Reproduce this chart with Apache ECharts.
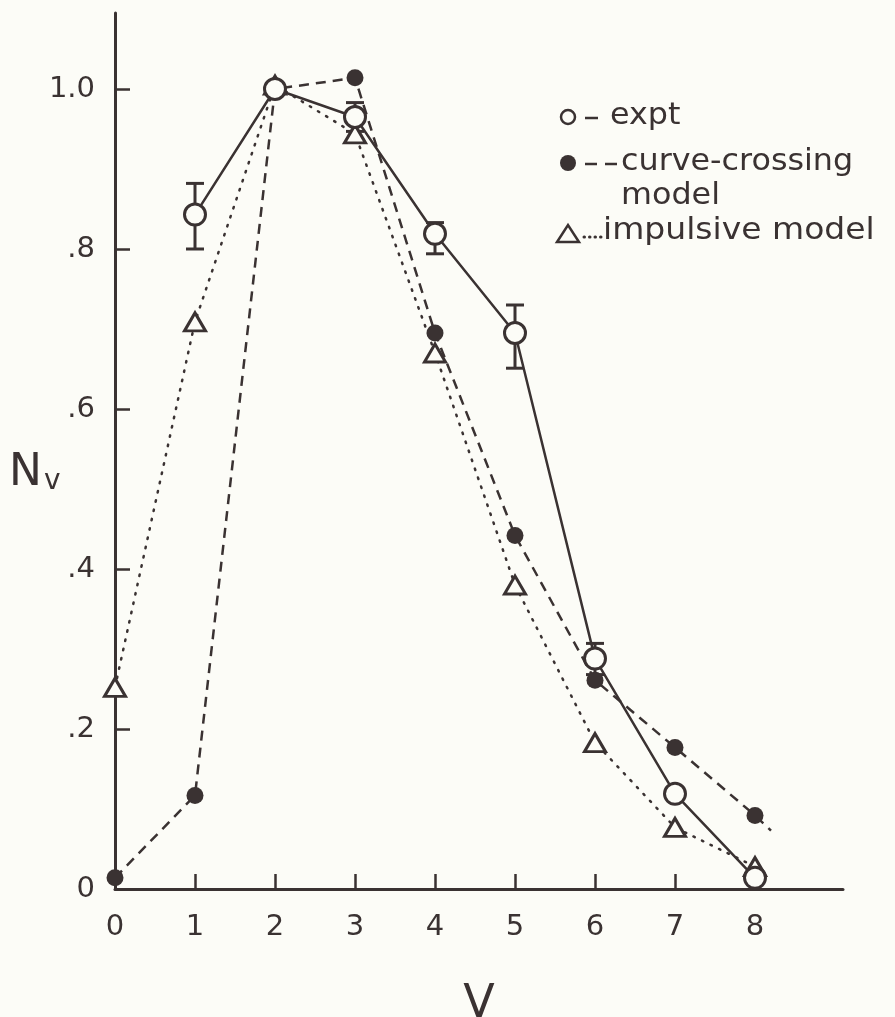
<!DOCTYPE html>
<html>
<head>
<meta charset="utf-8">
<script src="https://cdn.jsdelivr.net/npm/echarts@6/dist/echarts.min.js"></script>
<style>
html,body{margin:0;padding:0;background:#fcfcf7;}
#chart{width:895px;height:1017px;}
</style>
</head>
<body>
<div id="chart"></div>
<script>
// ---- data ----
const vValues = [0, 1, 2, 3, 4, 5, 6, 7, 8];
const xTickLabels = ['0', '1', '2', '3', '4', '5', '6', '7', '8'];
const yTickValues = [0, 0.2, 0.4, 0.6, 0.8, 1.0];
const yTickLabels = ['0', '.2', '.4', '.6', '.8', '1.0'];

const exptX = [1, 2, 3, 4, 5, 6, 7, 8];
const exptY = [0.843, 1.0, 0.965, 0.819, 0.695, 0.288, 0.119, 0.014];
const exptErrLo = [0.800, null, 0.947, 0.794, 0.651, 0.268, null, null];
const exptErrHi = [0.882, null, 0.983, 0.833, 0.730, 0.307, null, null];

const crossX = [0, 1, 2, 3, 4, 5, 6, 7, 8, 8.2];
const crossY = [0.014, 0.117, 1.0, 1.014, 0.695, 0.442, 0.261, 0.177, 0.092, 0.073];

const impX = [0, 1, 2, 3, 4, 5, 6, 7, 8];
const impY = [0.252, 0.709, 1.005, 0.944, 0.670, 0.380, 0.183, 0.077, 0.028];

const legendLabels = ['expt', 'curve-crossing', 'model', 'impulsive model'];

// ---- styling ----
const INK = '#3a3232';
const BG = '#fcfcf7';
const FONT = 'DejaVu Sans';

const chart = echarts.init(document.getElementById('chart'), null, {renderer: 'canvas'});

const exptData = exptX.map((x, i) => [x, exptY[i]]);
const crossData = crossX.map((x, i) => {
  const item = {value: [x, crossY[i]]};
  if (i === crossX.length - 1) item.symbol = 'none';
  return item;
});
const impData = impX.map((x, i) => [x, impY[i]]);
const errData = exptX.map((x, i) => [x, exptErrLo[i], exptErrHi[i]]).filter(d => d[1] !== null);

const legendText = (text, left, top, sx) => ({
  type: 'text', left: left, top: top, z: 100, scaleX: sx || 1.06,
  style: {text: text, fontFamily: FONT, fontSize: 30, fill: INK}
});

const option = {
  backgroundColor: BG,
  animation: false,
  grid: {left: 115, right: 52, top: 13, bottom: 128, containLabel: false, outerBoundsMode: 'none'},
  xAxis: {
    type: 'value', min: 0, max: 9.1, interval: 1,
    name: 'V', nameLocation: 'middle', nameGap: 93,
    nameTextStyle: {fontFamily: FONT, fontSize: 46, color: INK},
    axisLine: {show: true, onZero: false, lineStyle: {color: INK, width: 3}},
    axisTick: {show: true, inside: true, length: 15, lineStyle: {color: INK, width: 2.5},
      customValues: [1, 2, 3, 4, 5, 6, 7, 8]},
    axisLabel: {show: true, margin: 24, fontFamily: FONT, fontSize: 29, color: INK,
      customValues: vValues,
      formatter: v => { const i = vValues.indexOf(Math.round(v)); return i >= 0 ? xTickLabels[i] : ''; }},
    splitLine: {show: false}
  },
  yAxis: {
    type: 'value', min: 0, max: 1.095, interval: 0.2,
    axisLine: {show: true, onZero: false, lineStyle: {color: INK, width: 3}},
    axisTick: {show: true, inside: true, length: 15, lineStyle: {color: INK, width: 2.5},
      customValues: yTickValues.slice(1)},
    axisLabel: {show: true, margin: 20, fontFamily: FONT, fontSize: 29, color: INK,
      customValues: yTickValues,
      formatter: v => { const i = yTickValues.findIndex(t => Math.abs(t - v) < 1e-6); return i >= 0 ? yTickLabels[i] : ''; }},
    splitLine: {show: false}
  },
  graphic: [
    // y-axis title N_v
    {type: 'text', left: 9, top: 452, z: 100,
      style: {text: 'N', fontFamily: FONT, fontSize: 44, fill: INK}},
    {type: 'text', left: 44, top: 468, z: 100,
      style: {text: 'v', fontFamily: FONT, fontSize: 28, fill: INK}},
    // legend: expt
    {type: 'circle', shape: {cx: 568, cy: 117, r: 7}, z: 100,
      style: {fill: BG, stroke: INK, lineWidth: 2.5}},
    {type: 'line', shape: {x1: 585, y1: 118, x2: 598, y2: 118}, z: 100,
      style: {stroke: INK, lineWidth: 2.5}},
    legendText(legendLabels[0], 610, 101),
    // legend: curve-crossing
    {type: 'circle', shape: {cx: 568, cy: 163, r: 8}, z: 100,
      style: {fill: INK}},
    {type: 'line', shape: {x1: 585, y1: 164, x2: 617, y2: 164}, z: 100,
      style: {stroke: INK, lineWidth: 2.5, lineDash: [12, 8]}},
    legendText(legendLabels[1], 621, 147),
    legendText(legendLabels[2], 621, 181),
    // legend: impulsive
    {type: 'polygon', shape: {points: [[557, 242], [579, 242], [568, 225]]}, z: 100,
      style: {fill: BG, stroke: INK, lineWidth: 2.5}},
    {type: 'line', shape: {x1: 584, y1: 237, x2: 601, y2: 237}, z: 100,
      style: {stroke: INK, lineWidth: 3, lineDash: [0.5, 5], lineCap: 'round'}},
    legendText(legendLabels[3], 603, 216, 1.1)
  ],
  series: [
    {
      name: 'error', type: 'custom', z: 1,
      data: errData,
      renderItem: (params, api) => {
        const top = api.coord([api.value(0), api.value(2)]);
        const bot = api.coord([api.value(0), api.value(1)]);
        const hw = 9;
        const st = {stroke: INK, lineWidth: 3};
        return {type: 'group', children: [
          {type: 'line', shape: {x1: top[0], y1: top[1], x2: bot[0], y2: bot[1]}, style: st},
          {type: 'line', shape: {x1: top[0] - hw, y1: top[1], x2: top[0] + hw, y2: top[1]}, style: st},
          {type: 'line', shape: {x1: bot[0] - hw, y1: bot[1], x2: bot[0] + hw, y2: bot[1]}, style: st}
        ]};
      }
    },
    {
      name: 'impulsive model', type: 'line', z: 2, data: impData,
      symbol: 'triangle', symbolSize: [21, 18],
      itemStyle: {color: BG, borderColor: INK, borderWidth: 3},
      lineStyle: {color: INK, width: 2.5, type: [1.5, 8], cap: 'round'}
    },
    {
      name: 'curve-crossing model', type: 'line', z: 3, data: crossData,
      symbol: 'circle', symbolSize: 17,
      itemStyle: {color: INK, borderWidth: 0},
      lineStyle: {color: INK, width: 2.5, type: [10, 7]}
    },
    {
      name: 'expt', type: 'line', z: 4, data: exptData,
      symbol: 'circle', symbolSize: 21,
      itemStyle: {color: BG, borderColor: INK, borderWidth: 3},
      lineStyle: {color: INK, width: 2.5, type: 'solid'}
    }
  ]
};
chart.setOption(option);
</script>
</body>
</html>
